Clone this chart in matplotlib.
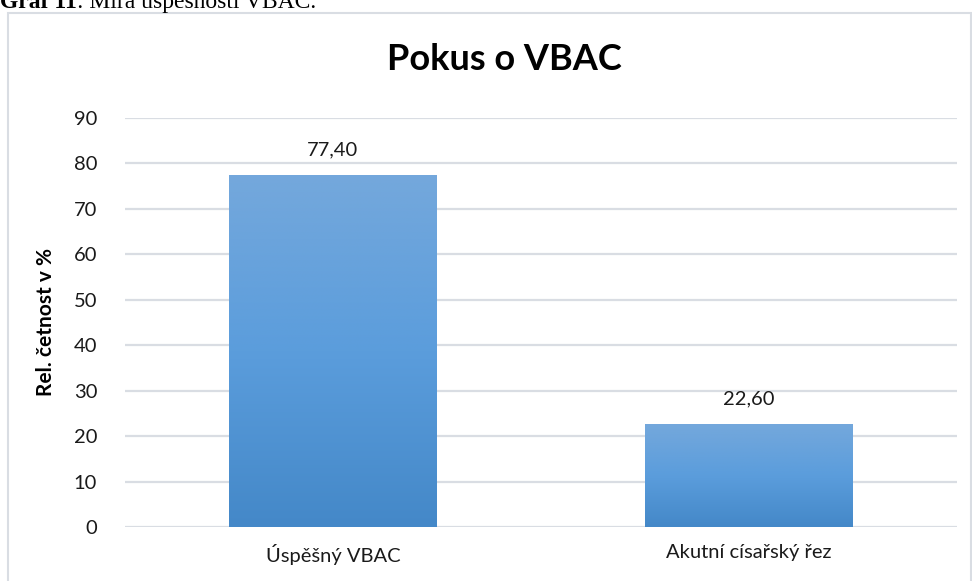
import matplotlib.pyplot as plt
import numpy as np
from matplotlib.patches import Rectangle
from matplotlib.colors import to_rgb

categories = ["Úspěšný VBAC", "Akutní císařský řez"]
values = [77.40, 22.60]
value_labels = ["77,40", "22,60"]
yticks = [0, 10, 20, 30, 40, 50, 60, 70, 80, 90]

plt.rcParams["font.family"] = ["Lato", "DejaVu Sans"]

W, H = 972, 581
fig = plt.figure(figsize=(W / 100, H / 100), dpi=100)
ax = fig.add_axes([125 / W, 1 - 527 / H, (957 - 125) / W, (527 - 118) / H])

x = np.arange(len(categories))
bars = ax.bar(x, values, width=0.5, color="none", edgecolor="none", zorder=3)

# Excel-style vertical gradient for bars
stops = [to_rgb("#74A8DC"), to_rgb("#5B9DDC"), to_rgb("#4488C8")]
t = np.linspace(0, 1, 256)
grad = np.zeros((256, 1, 3))
for c in range(3):
    grad[:, 0, c] = np.interp(t, [0, 0.5, 1], [s[c] for s in stops])
for b in bars:
    x0, w, h = b.get_x(), b.get_width(), b.get_height()
    ax.imshow(grad, extent=[x0, x0 + w, 0, h], aspect="auto", zorder=3,
              interpolation="bicubic")

ax.set_xlim(-0.5, len(categories) - 0.5)
ax.set_ylim(0, 90)
ax.set_yticks(yticks)
ax.set_xticks(x)
ax.set_xticklabels(categories)
ax.tick_params(axis="both", length=0, labelsize=14.5, colors="#1a1a1a")
ax.tick_params(axis="y", pad=20)
ax.tick_params(axis="x", pad=12)
ax.grid(axis="y", color="#D9DDE3", linewidth=1.6, zorder=0)
ax.set_axisbelow(True)
for s in ax.spines.values():
    s.set_visible(False)

for b, lab in zip(bars, value_labels):
    ax.annotate(lab, (b.get_x() + b.get_width() / 2, b.get_height()),
                xytext=(0, 12), textcoords="offset points",
                ha="center", va="bottom", fontsize=14.5, color="#1a1a1a")

ax.set_ylabel("Rel. četnost v %", fontsize=15, fontweight="bold")
ax.yaxis.set_label_coords(-(125 - 56) / (957 - 125), 0.5)

fig.text(504 / W, 1 - 60 / H, "Pokus o VBAC", ha="center", va="center",
         fontsize=26, fontweight="bold", color="#000000")

# outer chart border
fig.patches.append(Rectangle((8 / W, -0.1), (971 - 8) / W, 1.1 - 13 / H,
                             transform=fig.transFigure, fill=False,
                             edgecolor="#D9DDE3", linewidth=1.5))

# caption above the chart (cut off at the top, as in the source page)
cap = fig.text(0, 1 - 8 / H, "Graf 11", ha="left", va="baseline",
               fontsize=17, fontweight="bold", family="Liberation Serif")
fig.canvas.draw()
bb = cap.get_window_extent()
fig.text(bb.x1 / W, 1 - 8 / H, ": Míra úspěšnosti VBAC.", ha="left",
         va="baseline", fontsize=17, family="Liberation Serif")

fig.savefig("out.png", dpi=100)
